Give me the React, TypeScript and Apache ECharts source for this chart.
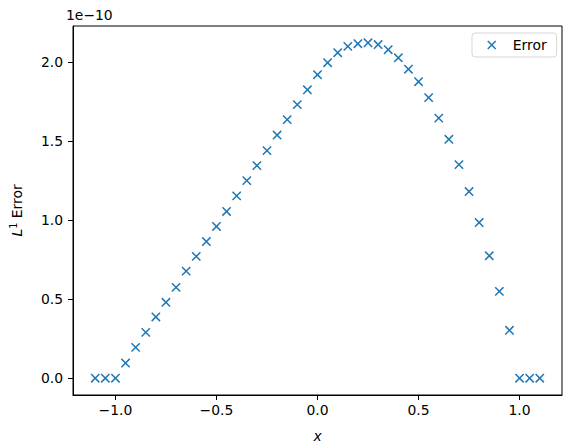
import React, { useEffect, useRef } from "react";
import * as echarts from "echarts";

// x positions of the samples
const xValues = [
  -1.1, -1.05, -1.0, -0.95, -0.9, -0.85, -0.8, -0.75, -0.7, -0.65, -0.6, -0.55,
  -0.5, -0.45, -0.4, -0.35, -0.3, -0.25, -0.2, -0.15, -0.1, -0.05, 0.0, 0.05,
  0.1, 0.15, 0.2, 0.25, 0.3, 0.35, 0.4, 0.45, 0.5, 0.55, 0.6, 0.65, 0.7, 0.75,
  0.8, 0.85, 0.9, 0.95, 1.0, 1.05, 1.1,
];
// L1 error, in units of 1e-10
const errorValues = [
  0, 0, 0, 0.096, 0.195, 0.29, 0.387, 0.48, 0.574, 0.677, 0.77, 0.864,
  0.959, 1.054, 1.152, 1.249, 1.344, 1.438, 1.537, 1.634, 1.729, 1.823, 1.918, 1.994,
  2.057, 2.097, 2.114, 2.12, 2.109, 2.076, 2.025, 1.953, 1.874, 1.773, 1.644, 1.51, 1.35, 1.18,
  0.984, 0.774, 0.549, 0.303, 0, 0, 0,
];
const xTicks = [-1.0, -0.5, 0.0, 0.5, 1.0];
const yTicks = [0.0, 0.5, 1.0, 1.5, 2.0];
const seriesName = "Error";
const offsetText = "1e\u221210";

const FONT = "DejaVu Sans";
const BLUE = "#1f77b4";
const XMARK = "path://M0,0L10,10M10,0L0,10";

const fmt = (v: number) => v.toFixed(1).replace("-", "\u2212");

export default function App() {
  const ref = useRef<HTMLDivElement>(null);
  useEffect(() => {
    if (!ref.current) return;
    const chart = echarts.init(ref.current, null, { renderer: "svg" });
    const axisCommon = {
      axisLine: { show: true, onZero: false, lineStyle: { color: "#000", width: 1 } },
      axisTick: { show: true, length: 5, lineStyle: { color: "#000", width: 1 } },
      splitLine: { show: false },
    };
    chart.setOption({
      animation: false,
      backgroundColor: "#fff",
      textStyle: { fontFamily: FONT },
      grid: {
        left: 66,
        right: 10,
        top: 26,
        bottom: 53,
        show: true,
        borderColor: "#000",
        borderWidth: 1,
        backgroundColor: "transparent",
      },
      graphic: [
        {
          type: "text",
          left: 66,
          top: 8,
          style: { text: offsetText, font: `13.9px "${FONT}"`, fill: "#000" },
        },
      ],
      legend: {
        left: 472,
        top: 33,
        padding: [5, 10, 5, 15],
        itemWidth: 8,
        itemHeight: 8,
        borderColor: "rgba(204,204,204,0.8)",
        borderWidth: 1,
        borderRadius: 3,
        backgroundColor: "rgba(255,255,255,0.8)",
        data: [{ name: seriesName, icon: XMARK }],
        itemStyle: { color: BLUE, borderColor: BLUE, borderWidth: 1.5, opacity: 1 },
        textStyle: { fontFamily: FONT, fontSize: 13.9, color: "#000", padding: [0, 0, 0, 12] },
      },
      xAxis: {
        type: "value",
        min: -1.21,
        max: 1.21,
        ...axisCommon,
        axisTick: { ...axisCommon.axisTick, customValues: xTicks },
        axisLabel: {
          customValues: xTicks,
          formatter: fmt,
          margin: 8,
          fontFamily: FONT,
          fontSize: 13.9,
          color: "#000",
        },
        name: "x",
        nameLocation: "middle",
        nameGap: 34,
        nameTextStyle: { fontFamily: FONT, fontSize: 13.9, fontStyle: "italic", color: "#000" },
      },
      yAxis: {
        type: "value",
        min: -0.106,
        max: 2.226,
        ...axisCommon,
        axisTick: { ...axisCommon.axisTick, customValues: yTicks },
        axisLabel: {
          customValues: yTicks,
          formatter: fmt,
          margin: 10,
          fontFamily: FONT,
          fontSize: 13.9,
          color: "#000",
        },
        name: "{it|L}{sup|1} Error",
        nameLocation: "middle",
        nameGap: 48,
        nameTextStyle: {
          fontFamily: FONT,
          fontSize: 13.9,
          color: "#000",
          rich: {
            it: { fontFamily: FONT, fontSize: 13.9, fontStyle: "italic", color: "#000" },
            sup: { fontFamily: FONT, fontSize: 9.7, color: "#000", padding: [0, 0, 7, 0] },
          },
        },
      },
      series: [
        {
          name: seriesName,
          type: "scatter",
          symbol: XMARK,
          symbolSize: 8.3,
          itemStyle: { color: BLUE, borderColor: BLUE, borderWidth: 1.5, opacity: 1 },
          data: xValues.map((x, i) => [x, errorValues[i]]),
        },
      ],
    });
    return () => chart.dispose();
  }, []);
  return (
    <div
      ref={ref}
      style={{ position: "absolute", left: 0, top: 0, width: 572, height: 448 }}
    />
  );
}
